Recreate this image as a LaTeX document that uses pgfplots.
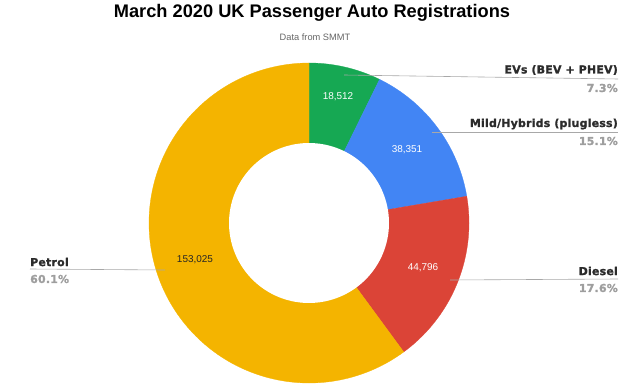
\documentclass[border=0pt]{standalone}
\usepackage{pgfplots}
\pgfplotsset{compat=1.18}
\usepackage{pgfplotstable}
\usepackage{fontspec}
\setmainfont{Liberation Sans}
\newfontfamily\lblfont[LetterSpace=2,BoldFeatures={FakeBold=1.3}]{DejaVu Sans}
\definecolor{evgreen}{HTML}{16A853}
\definecolor{gblue}{HTML}{4285F4}
\definecolor{gred}{HTML}{DB4437}
\definecolor{gyellow}{HTML}{F4B400}
\definecolor{pctgray}{HTML}{9E9E9E}
\definecolor{namegray}{HTML}{2B2B2B}
\definecolor{linegray}{HTML}{A8A8A8}

\pgfplotstableread{
label value
EV 18512
Mild 38351
Diesel 44796
Petrol 153025
}\shares

\pgfplotstablegetelem{0}{value}\of\shares \edef\vA{\pgfplotsretval}
\pgfplotstablegetelem{1}{value}\of\shares \edef\vB{\pgfplotsretval}
\pgfplotstablegetelem{2}{value}\of\shares \edef\vC{\pgfplotsretval}
\pgfplotstablegetelem{3}{value}\of\shares \edef\vD{\pgfplotsretval}
\edef\total{\fpeval{\vA+\vB+\vC+\vD}}
\edef\aA{\fpeval{90-360*\vA/\total}}
\edef\aB{\fpeval{\aA-360*\vB/\total}}
\edef\aC{\fpeval{\aB-360*\vC/\total}}
\edef\aD{\fpeval{\aC-360*\vD/\total}}

\tikzset{name/.style={inner sep=0pt,font=\fontsize{11}{13}\selectfont\lblfont\bfseries,text=namegray},
         pct/.style={inner sep=0pt,font=\fontsize{11}{13}\selectfont\lblfont\bfseries,text=pctgray},
         val/.style={font=\fontsize{10}{12}\selectfont}}

\begin{document}
\begin{tikzpicture}
\begin{axis}[width=640bp,height=389bp,scale only axis,
  xmin=0,xmax=640,ymin=0,ymax=389,hide axis,clip=false]
\path (axis cs:0,0) rectangle (axis cs:640,389);
% slices (clockwise from top)
\addplot[fill=evgreen,draw=evgreen,line width=0.3pt,domain=\aA:90,samples=40,variable=\t]
  ({309+160*cos(\t)},{166+160*sin(\t)}) -- (axis cs:309,166) -- cycle;
\addplot[fill=gblue,draw=gblue,line width=0.3pt,domain=\aB:\aA,samples=60,variable=\t]
  ({309+160*cos(\t)},{166+160*sin(\t)}) -- (axis cs:309,166) -- cycle;
\addplot[fill=gred,draw=gred,line width=0.3pt,domain=\aC:\aB,samples=60,variable=\t]
  ({309+160*cos(\t)},{166+160*sin(\t)}) -- (axis cs:309,166) -- cycle;
\addplot[fill=gyellow,draw=gyellow,line width=0.3pt,domain=\aD:\aC,samples=150,variable=\t]
  ({309+160*cos(\t)},{166+160*sin(\t)}) -- (axis cs:309,166) -- cycle;
% hole
\addplot[fill=white,draw=none,domain=0:360,samples=120,variable=\t]
  ({309+80*cos(\t)},{166+80*sin(\t)}) -- cycle;

% leader lines
\draw[linegray,line width=0.6pt] (axis cs:344,314) -- (axis cs:618,310);
\draw[linegray,line width=0.6pt] (axis cs:432,257) -- (axis cs:618,257);
\draw[linegray,line width=0.6pt] (axis cs:450,109) -- (axis cs:618,110);
\draw[linegray,line width=0.6pt] (axis cs:30,120) -- (axis cs:165,119);

% title
\node[font=\fontsize{18.3}{21}\selectfont\bfseries,text=black] at (axis cs:312,376) {March 2020 UK Passenger Auto Registrations};
\node[font=\fontsize{9.3}{11}\selectfont,text=black!60] at (axis cs:315,352) {Data from SMMT};

% value labels
\node[val,text=white] at (axis cs:338,292) {18,512};
\node[val,text=white] at (axis cs:407,239) {38,351};
\node[val,text=white] at (axis cs:423,121) {44,796};
\node[val,text=black!85] at (axis cs:195,129) {153,025};

% category labels
\node[name,anchor=east] at (axis cs:618,319) {EVs (BEV + PHEV)};
\node[pct,anchor=east] at (axis cs:618,301) {7.3\%};
\node[name,anchor=east] at (axis cs:618,265) {Mild/Hybrids (plugless)};
\node[pct,anchor=east] at (axis cs:618,248) {15.1\%};
\node[name,anchor=east] at (axis cs:618,118) {Diesel};
\node[pct,anchor=east] at (axis cs:618,101) {17.6\%};
\node[name,anchor=west] at (axis cs:30,127) {Petrol};
\node[pct,anchor=west] at (axis cs:30,110) {60.1\%};
\end{axis}
\end{tikzpicture}
\end{document}
